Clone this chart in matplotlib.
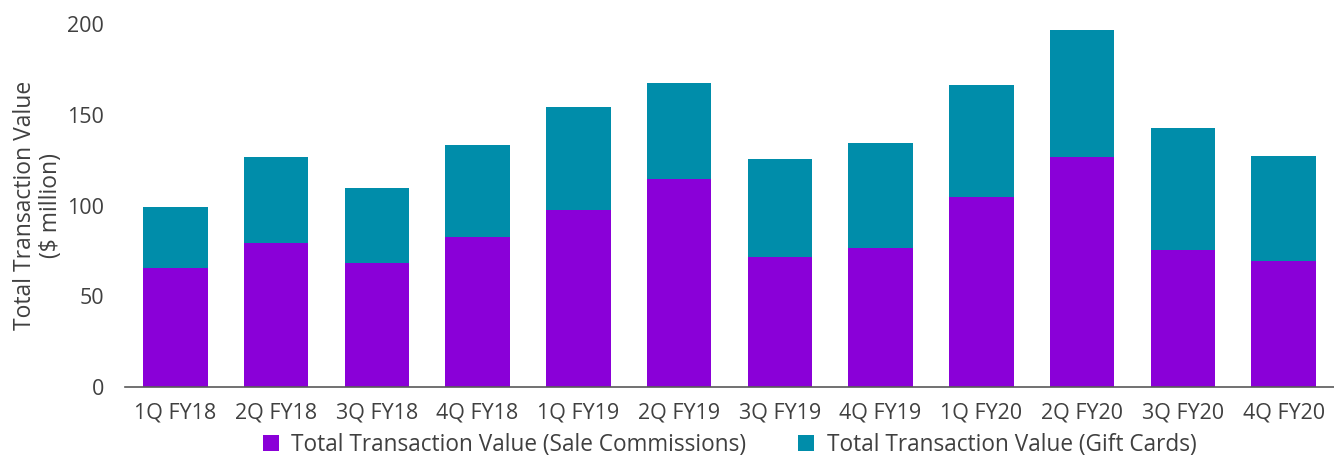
import matplotlib
matplotlib.use("Agg")
import matplotlib.pyplot as plt
import numpy as np

quarters = ["1Q FY18", "2Q FY18", "3Q FY18", "4Q FY18",
            "1Q FY19", "2Q FY19", "3Q FY19", "4Q FY19",
            "1Q FY20", "2Q FY20", "3Q FY20", "4Q FY20"]
# totals, commissions is the lower part
sale_commissions = [65.8, 79.4, 68.4, 82.7, 97.6, 114.7, 71.7, 76.6, 104.8, 126.8, 75.5, 69.5]
totals = [99.3, 126.8, 109.7, 133.4, 154.4, 167.6, 125.7, 134.5, 166.5, 196.9, 142.8, 127.4]
gift_cards = [t - s for t, s in zip(totals, sale_commissions)]

purple = "#8A00D8"
teal = "#008DAA"
txt = "#404040"

plt.rcParams['font.family'] = ['Open Sans', 'DejaVu Sans']

fig = plt.figure(figsize=(13.34, 4.57), dpi=100)
ax = fig.add_axes([0.0937, 0.153, 0.9063, 0.7945])

x = np.arange(len(quarters))
ax.bar(x, sale_commissions, width=0.64, color=purple,
       label="Total Transaction Value (Sale Commissions)")
ax.bar(x, gift_cards, width=0.64, bottom=sale_commissions, color=teal,
       label="Total Transaction Value (Gift Cards)")

ax.set_xlim(-0.5, 11.5)
ax.set_ylim(0, 200)
ax.set_yticks([0, 50, 100, 150, 200])
ax.set_xticks(x)
ax.set_xticklabels(quarters)
ax.tick_params(axis='both', length=0, labelsize=15.5, colors=txt)
ax.tick_params(axis='x', pad=11)
ax.tick_params(axis='y', pad=15)

for s in ["top", "right", "left"]:
    ax.spines[s].set_visible(False)
ax.spines["bottom"].set_color("#595959")
ax.spines["bottom"].set_linewidth(1.2)

ax.set_ylabel("Total Transaction Value\n($ million)", fontsize=16.5, color=txt,
              linespacing=1.1, labelpad=3)

ax.legend(loc="center", bbox_to_anchor=(0.5, -0.16), ncol=2, frameon=False,
          fontsize=16.3, handlelength=0.7, handleheight=0.7, columnspacing=2.3,
          handletextpad=0.55, labelcolor=txt, borderpad=0.2)

fig.savefig("out.png", dpi=100)
